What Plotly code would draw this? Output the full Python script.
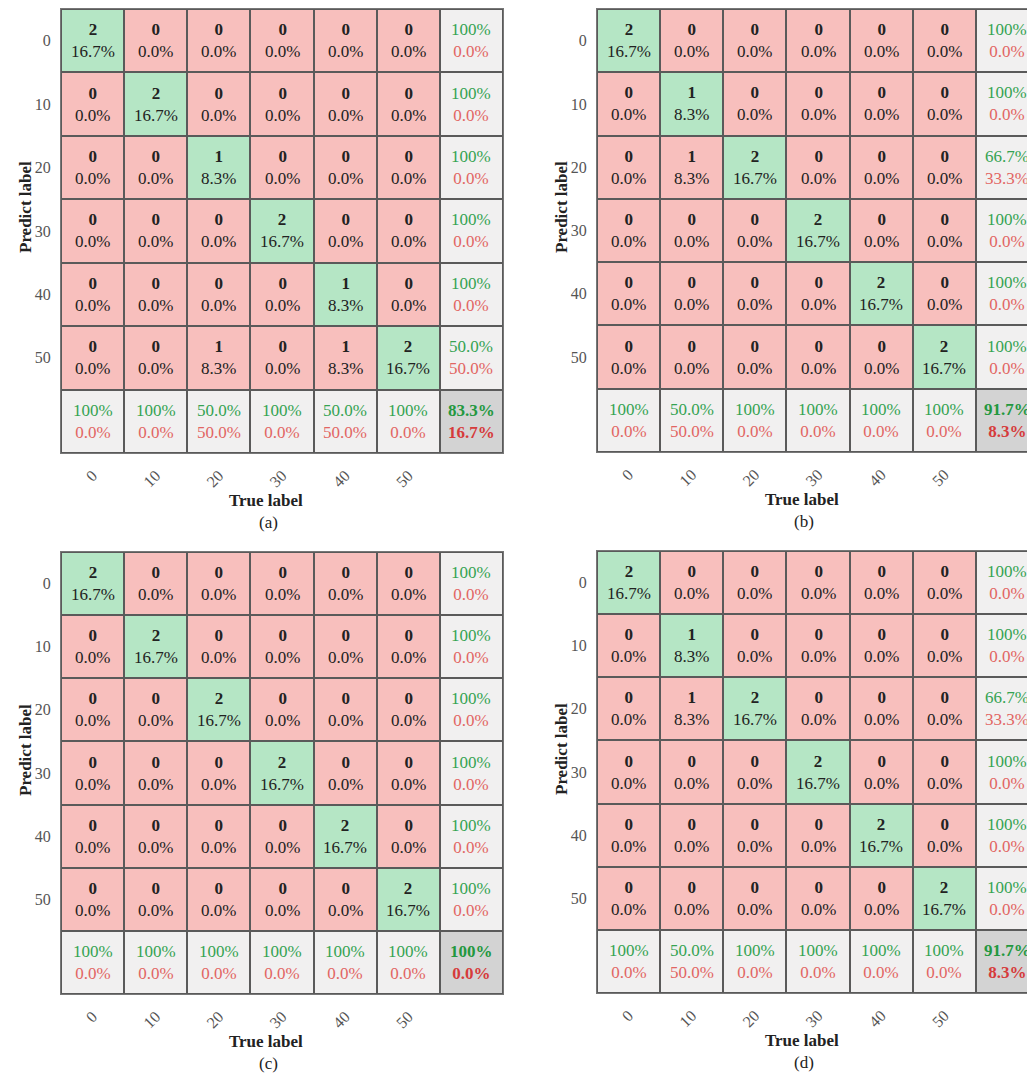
import plotly.graph_objects as go

class_labels = ["0", "10", "20", "30", "40", "50"]
panel_names = ["(a)", "(b)", "(c)", "(d)"]

# rows = predicted label, columns = true label
counts_a = [
    [2, 0, 0, 0, 0, 0],
    [0, 2, 0, 0, 0, 0],
    [0, 0, 1, 0, 0, 0],
    [0, 0, 0, 2, 0, 0],
    [0, 0, 0, 0, 1, 0],
    [0, 0, 1, 0, 1, 2],
]
counts_b = [
    [2, 0, 0, 0, 0, 0],
    [0, 1, 0, 0, 0, 0],
    [0, 1, 2, 0, 0, 0],
    [0, 0, 0, 2, 0, 0],
    [0, 0, 0, 0, 2, 0],
    [0, 0, 0, 0, 0, 2],
]
counts_c = [
    [2, 0, 0, 0, 0, 0],
    [0, 2, 0, 0, 0, 0],
    [0, 0, 2, 0, 0, 0],
    [0, 0, 0, 2, 0, 0],
    [0, 0, 0, 0, 2, 0],
    [0, 0, 0, 0, 0, 2],
]
counts_d = [
    [2, 0, 0, 0, 0, 0],
    [0, 1, 0, 0, 0, 0],
    [0, 1, 2, 0, 0, 0],
    [0, 0, 0, 2, 0, 0],
    [0, 0, 0, 0, 2, 0],
    [0, 0, 0, 0, 0, 2],
]
all_counts = [counts_a, counts_b, counts_c, counts_d]

OFF = 8  # page body margin
W, H = 1035 - OFF, 1084 - 2 * OFF
FONT = "Liberation Serif"
PINK = "#f8bfbd"
GREEN = "#b5e6c5"
SUMM = "#f1f0f0"
CORNER = "#d3d3d3"
GTXT = "#35a352"
RTXT = "#e26563"

# panel geometry (page pixels): left, right, top, bottom of grid
cell = 63.15
panels_px = [
    (61, 61 + 7 * cell, 9, 453),
    (597, 597 + 7 * cell, 9, 452),
    (61, 61 + 7 * cell, 552, 994),
    (597, 597 + 7 * cell, 551, 993),
]


def fmt(p):
    if abs(p - 100) < 1e-9:
        return "100%"
    return "%.1f%%" % p


def px_x(v):
    return (v - OFF) / W


def px_y(v):
    return 1 - (v - OFF) / H


fig = go.Figure()
layout = {}
annotations = []
n = len(class_labels)
CS = 17

for k, counts in enumerate(all_counts):
    total = sum(sum(r) for r in counts)
    z = []
    for i in range(n + 1):
        row = []
        for j in range(n + 1):
            if i == n and j == n:
                row.append(3)
            elif i == n or j == n:
                row.append(2)
            elif i == j:
                row.append(1)
            else:
                row.append(0)
        z.append(row)
    sfx = "" if k == 0 else str(k + 1)
    xa, ya = "x" + sfx, "y" + sfx
    fig.add_trace(go.Heatmap(
        z=z, x=list(range(n + 1)), y=list(range(n + 1)),
        colorscale=[[0, PINK], [1 / 3, GREEN], [2 / 3, SUMM], [1, CORNER]],
        zmin=0, zmax=3, showscale=False, xgap=2, ygap=2, hoverinfo="skip",
        xaxis=xa, yaxis=ya,
    ))
    L, R, T, B = panels_px[k]
    rr = min(R, 1035)
    xmax = -0.5 + 7 * (rr - L) / (R - L)
    layout["xaxis" + sfx] = dict(
        domain=[px_x(L), px_x(rr)], range=[-0.5, xmax], anchor=ya,
        tickvals=list(range(n)), ticktext=class_labels, tickangle=-45,
        showgrid=False, zeroline=False, showline=True, mirror=True,
        linecolor="#777", linewidth=1, ticks="", ticklabelstandoff=6,
        tickfont=dict(family=FONT, size=16, color="#555"),
    )
    layout["yaxis" + sfx] = dict(
        domain=[px_y(B), px_y(T)], range=[6.5, -0.5], anchor=xa,
        tickvals=list(range(n)), ticktext=class_labels,
        showgrid=False, zeroline=False, showline=True, mirror=True,
        linecolor="#777", linewidth=1, ticks="", ticklabelstandoff=6,
        tickfont=dict(family=FONT, size=16, color="#555"),
    )
    # cell texts
    for i in range(n):
        for j in range(n):
            c = counts[i][j]
            annotations.append(dict(
                x=j, y=i, xref=xa, yref=ya, showarrow=False,
                xanchor="center", yanchor="middle",
                text="<b>%d</b><br>%s" % (c, fmt(100 * c / total)),
                font=dict(family=FONT, size=CS, color="#222"),
            ))
    # row summaries
    for i in range(n):
        s = sum(counts[i])
        p = 100 * counts[i][i] / s if s else 0
        annotations.append(dict(
            x=n, y=i, xref=xa, yref=ya, showarrow=False,
            xanchor="center", yanchor="middle",
            text="<span style='color:%s'>%s</span><br><span style='color:%s'>%s</span>"
                 % (GTXT, fmt(p), RTXT, fmt(100 - p)),
            font=dict(family=FONT, size=CS),
        ))
    # column summaries
    for j in range(n):
        s = sum(counts[i][j] for i in range(n))
        p = 100 * counts[j][j] / s if s else 0
        annotations.append(dict(
            x=j, y=n, xref=xa, yref=ya, showarrow=False,
            xanchor="center", yanchor="middle",
            text="<span style='color:%s'>%s</span><br><span style='color:%s'>%s</span>"
                 % (GTXT, fmt(p), RTXT, fmt(100 - p)),
            font=dict(family=FONT, size=CS),
        ))
    acc = 100 * sum(counts[i][i] for i in range(n)) / total
    annotations.append(dict(
        x=n, y=n, xref=xa, yref=ya, showarrow=False,
        xanchor="center", yanchor="middle",
        text="<b><span style='color:#23983f'>%s</span><br><span style='color:#d63b3b'>%s</span></b>"
             % (fmt(acc), fmt(100 - acc)),
        font=dict(family=FONT, size=CS),
    ))
    # axis titles and panel label
    annotations.append(dict(
        x=px_x(L + 205), y=px_y(B + 47), xref="paper", yref="paper",
        xanchor="center", yanchor="middle",
        showarrow=False, text="<b>True label</b>",
        font=dict(family=FONT, size=17, color="#222"),
    ))
    annotations.append(dict(
        x=px_x(L + 207), y=px_y(B + 69), xref="paper", yref="paper",
        xanchor="center", yanchor="middle",
        showarrow=False, text=panel_names[k],
        font=dict(family=FONT, size=17, color="#222"),
    ))
    annotations.append(dict(
        x=px_x(L - 36), y=px_y(T + 198), xref="paper", yref="paper",
        xanchor="center", yanchor="middle",
        showarrow=False, text="<b>Predict label</b>", textangle=-90,
        font=dict(family=FONT, size=17, color="#222"),
    ))

fig.update_layout(
    width=W, height=H, margin=dict(l=0, r=0, t=0, b=0),
    paper_bgcolor="white", plot_bgcolor="#5a5a5a",
    annotations=annotations, showlegend=False, **layout,
)
fig.write_html("out.html")
